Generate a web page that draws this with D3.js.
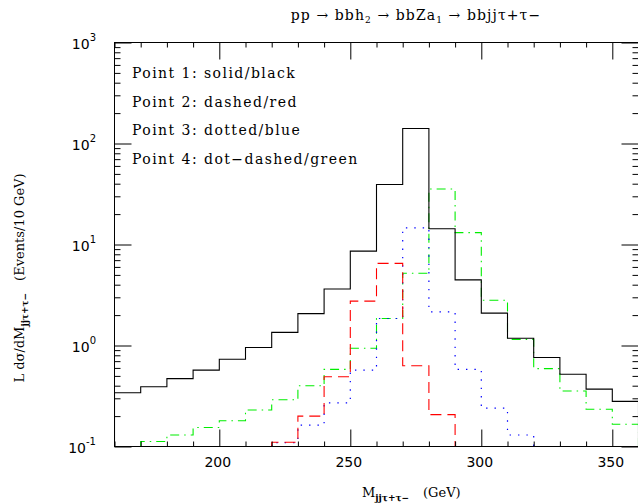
<!DOCTYPE html>
<html>
<head>
<meta charset="utf-8">
<script src="https://cdn.jsdelivr.net/npm/d3@7"></script>
<style>
  body { margin: 0; background: #fff; }
  svg { display: block; }
  .serif { font-family: "DejaVu Serif", serif; }
  .sans { font-family: "DejaVu Sans", sans-serif; }
</style>
</head>
<body>
<div id="chart"></div>
<script>
// bin edges (GeV) and histogram contents (events / 10 GeV); null = below 0.1
const binEdges = [160, 170, 180, 190, 200, 210, 220, 230, 240, 250, 260,
                  270, 280, 290, 300, 310, 320, 330, 340, 350, 360];

const point1 = [0.34, 0.39, 0.47, 0.57, 0.73, 0.955, 1.35, 2.07, 3.63, 8.6,
                39.3, 141, 14.3, 4.46, 2.09, 1.18, 0.76, 0.52, 0.37, 0.28];
const point2 = [null, null, null, null, null, null, 0.11, 0.2, 0.49, 2.75,
                6.5, 0.63, 0.207, null, null, null, null, null, null, null];
const point3 = [null, null, null, null, null, null, 0.109, 0.163, 0.27, 0.57,
                1.85, 14.6, 2.15, 0.58, 0.24, 0.13, null, null, null, null];
const point4 = [null, 0.112, 0.13, 0.154, 0.18, 0.23, 0.29, 0.40, 0.58, 0.94,
                1.85, 5.2, 35.5, 13.1, 2.81, 1.15, 0.59, 0.355, 0.234, 0.166];

const legendLabels = ["Point 1: solid/black", "Point 2: dashed/red",
                      "Point 3: dotted/blue", "Point 4: dot-dashed/green"];

const xMajor = [200, 250, 300, 350];
const yMajor = [0.1, 1, 10, 100, 1000];
const yExp = [-1, 0, 1, 2, 3];

const W = 638, H = 504;
const plotL = 114.5, plotR = 638.5, plotT = 42.5, plotB = 446.5;

const svg = d3.select("#chart").append("svg")
    .attr("width", W).attr("height", H);

const xScale = d3.scaleLinear().domain([160, 360]).range([plotL, plotR]);
const yScale = d3.scaleLog().domain([0.1, 1000]).range([plotB, plotT]);

svg.append("clipPath").attr("id", "plotClip")
  .append("rect")
    .attr("x", plotL).attr("y", plotT)
    .attr("width", plotR - plotL).attr("height", plotB - plotT);

// histograms
const series = [
  { values: point1, color: "#000000", dash: null, width: 1.1 },
  { values: point2, color: "#ff0000", dash: "11,6", width: 1.1 },
  { values: point3, color: "#0000ff", dash: "1.4,7", width: 1.2 },
  { values: point4, color: "#00ee00", dash: "9,5,1.5,5", width: 1.1 }
];

function stepPath(values) {
  let d = "";
  let i = 0;
  while (i < values.length) {
    if (values[i] == null) { i++; continue; }
    let pts = [[binEdges[i], 0.1]];
    while (i < values.length && values[i] != null) {
      pts.push([binEdges[i], values[i]]);
      i++;
    }
    pts.push([binEdges[i], values[i - 1]]);
    pts.push([binEdges[i], 0.1]);
    d += d3.line()
      .x(p => xScale(p[0]))
      .y(p => yScale(p[1]))
      .curve(d3.curveStepAfter)(pts);
  }
  return d;
}

const histG = svg.append("g").attr("clip-path", "url(#plotClip)");
series.slice().reverse().forEach(s => {
  histG.append("path")
    .attr("d", stepPath(s.values))
    .attr("fill", "none")
    .attr("stroke", s.color)
    .attr("stroke-width", s.width)
    .attr("stroke-dasharray", s.dash);
});

// frame
svg.append("rect")
    .attr("x", plotL).attr("y", plotT)
    .attr("width", plotR - plotL).attr("height", plotB - plotT)
    .attr("fill", "none").attr("stroke", "#000").attr("stroke-width", 1);

// x ticks (minor every 10 GeV, major every 50)
const xMinor = binEdges.filter(v => !xMajor.includes(v));

function xTicks(pos, scaleTicks, size, labels) {
  const ax = (pos === "bottom" ? d3.axisBottom(xScale) : d3.axisTop(xScale))
    .tickValues(scaleTicks)
    .tickSizeInner(-size).tickSizeOuter(0)
    .tickFormat(labels ? d3.format("d") : "");
  const g = svg.append("g")
    .attr("transform", `translate(0,${pos === "bottom" ? plotB : plotT})`)
    .call(ax);
  g.select(".domain").remove();
  return g;
}
xTicks("bottom", xMinor, 5, false);
const xb = xTicks("bottom", xMajor, 17, true);
xb.selectAll("text")
    .attr("class", "sans")
    .attr("x", -2)
    .attr("y", 20).attr("dy", null)
    .attr("font-size", 14).attr("fill", "#000");
xTicks("top", xMinor, 5, false);
xTicks("top", xMajor, 17, false);

// y ticks (log)
const yMinor = [];
yExp.slice(0, -1).forEach(e => {
  [2, 3, 4, 5, 6, 7, 8, 9].forEach(m => yMinor.push(m * Math.pow(10, e)));
});

function yTicks(pos, vals, size) {
  const ax = (pos === "left" ? d3.axisLeft(yScale) : d3.axisRight(yScale))
    .tickValues(vals)
    .tickSizeInner(-size).tickSizeOuter(0)
    .tickFormat("");
  const g = svg.append("g")
    .attr("transform", `translate(${pos === "left" ? plotL : plotR},0)`)
    .call(ax);
  g.select(".domain").remove();
  return g;
}
yTicks("left", yMinor, 6);
yTicks("left", yMajor, 17);
yTicks("right", yMinor, 6);
yTicks("right", yMajor, 17);

svg.selectAll(".tick line").attr("stroke", "#000");

// y tick labels 10^n
yMajor.forEach((v, i) => {
  const t = svg.append("text")
    .attr("class", "sans")
    .attr("x", 96).attr("y", yScale(v) + 6)
    .attr("text-anchor", "end")
    .attr("font-size", 14);
  t.append("tspan").text("10");
  t.append("tspan").attr("dy", -8).attr("font-size", 10).text(yExp[i]);
});

// legend
legendLabels.forEach((txt, i) => {
  svg.append("text")
    .attr("class", "serif")
    .attr("x", 132).attr("y", 78 + i * 28.5)
    .attr("font-size", 14)
    .attr("letter-spacing", 1.45)
    .text(txt.replace("-", "\u2212"));
});

// title
const title = svg.append("text")
    .attr("class", "serif")
    .attr("x", 416).attr("y", 20)
    .attr("text-anchor", "middle")
    .attr("font-size", 14)
    .attr("letter-spacing", 1.1);
title.append("tspan").text("pp \u2192 bbh");
title.append("tspan").attr("dy", 3).attr("font-size", 9).text("2");
title.append("tspan").attr("dy", -3).text(" \u2192 bbZa");
title.append("tspan").attr("dy", 3).attr("font-size", 9).text("1");
title.append("tspan").attr("dy", -3).text(" \u2192 bbjj\u03c4+\u03c4\u2212");

// x axis label
const xl = svg.append("text")
    .attr("class", "serif")
    .attr("x", 362).attr("y", 497)
    .attr("font-size", 13);
xl.append("tspan").text("M");
xl.append("tspan").attr("dy", 4).attr("font-size", 9).attr("font-weight", "bold")
    .text("jj\u03c4+\u03c4\u2212");
xl.append("tspan").attr("dy", -4).attr("dx", 14).text("(GeV)");

// y axis label
const yl = svg.append("text")
    .attr("class", "serif")
    .attr("transform", "translate(24,278) rotate(-90)")
    .attr("text-anchor", "middle")
    .attr("font-size", 13);
yl.append("tspan").text("L d\u03c3/dM");
yl.append("tspan").attr("dy", 4).attr("font-size", 9).attr("font-weight", "bold")
    .text("jj\u03c4+\u03c4\u2212");
yl.append("tspan").attr("dy", -4).attr("dx", 12).text("(Events/10 GeV)");
</script>
</body>
</html>
